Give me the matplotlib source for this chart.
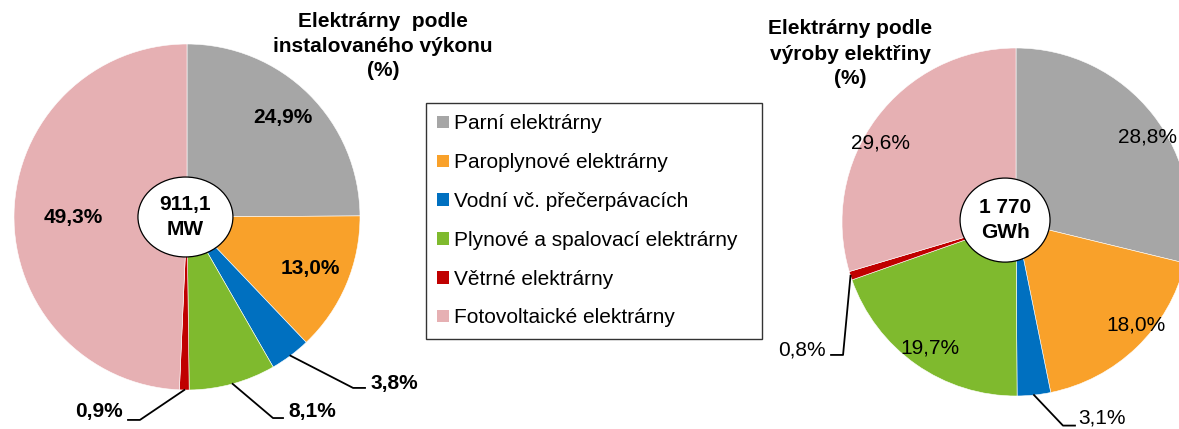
import numpy as np
import matplotlib
matplotlib.use('Agg')
import matplotlib.pyplot as plt
from matplotlib.patches import Ellipse

plt.rcParams['font.family'] = ['Liberation Sans', 'DejaVu Sans']

# data
kategorie = ['Parní elektrárny', 'Paroplynové elektrárny', 'Vodní vč. přečerpávacích',
             'Plynové a spalovací elektrárny', 'Větrné elektrárny', 'Fotovoltaické elektrárny']
barvy = ['#A6A6A6', '#F9A12A', '#0070C0', '#7FBA2E', '#C00000', '#E6B0B3']
vykon = [24.9, 13.0, 3.8, 8.1, 0.9, 49.3]       # instalovaný výkon (%)
vyroba = [28.8, 18.0, 3.1, 19.7, 0.8, 29.6]     # výroba elektřiny (%)

W, H = 1179, 429
fig = plt.figure(figsize=(W / 100, H / 100), dpi=100)


def pie_ax(cx, cy, r):
    # osy v pixelech, stred koláče (cx, cy) od horního levého rohu
    ax = fig.add_axes([(cx - r) / W, (H - cy - r) / H, 2 * r / W, 2 * r / H])
    return ax


def fmt(v):
    return f"{v:.1f}".replace('.', ',') + '%'


def kolac(ax, hodnoty, weight, vnitrni, vnejsi):
    wedges, _ = ax.pie(hodnoty, colors=barvy, startangle=90, counterclock=False, radius=1,
                       wedgeprops=dict(edgecolor='white', linewidth=0.4))
    # pie() nastavuje vlastni meze, proto az po nem
    ax.set_xlim(-1, 1)
    ax.set_ylim(-1, 1)
    ax.set_aspect('equal')
    ax.axis('off')
    for i, w in enumerate(wedges):
        mid = np.deg2rad((w.theta1 + w.theta2) / 2)
        if i in vnitrni:
            d, da = vnitrni[i]
            a = mid + np.deg2rad(da)
            ax.text(d * np.cos(a), d * np.sin(a), fmt(hodnoty[i]), ha='center', va='center',
                    fontsize=15, fontweight=weight)
        else:
            (ex, ey), (hx, hy), (tx, ty), ha = vnejsi[i]
            sx, sy = np.cos(mid), np.sin(mid)
            ax.plot([sx, ex, hx], [sy, ey, hy], color='black', lw=1.3, clip_on=False)
            ax.text(tx, ty, fmt(hodnoty[i]), ha=ha, va='center', fontsize=15,
                    fontweight=weight, clip_on=False)
    return wedges


# levý koláč
ax1 = pie_ax(187, 217, 173)
w1 = kolac(ax1, vykon, 'bold',
           {0: (0.80, 0.7), 1: (0.77, 0.5), 5: (0.66, 1.3)},
           {2: ((0.960, -0.988), (1.029, -0.988), (1.058, -0.962), 'left'),
            3: ((0.497, -1.162), (0.555, -1.162), (0.584, -1.127), 'left'),
            4: ((-0.272, -1.173), (-0.341, -1.173), (-0.370, -1.127), 'right')})
ax1.add_patch(Ellipse((-0.009, 0.0), 0.549, 0.462, facecolor='white', edgecolor='black',
                      lw=0.9, zorder=5))
ax1.text(-0.009, 0.0, '911,1\nMW', ha='center', va='center', fontsize=15,
         fontweight='bold', linespacing=1.4, zorder=6)

# pravý koláč
ax2 = pie_ax(1016, 222, 174)
kolac(ax2, vyroba, 'normal',
      {0: (0.90, -5.4), 1: (0.91, 5.6), 3: (0.88, 0.8), 5: (0.90, 6.5)},
      {2: ((0.270, -1.170), (0.339, -1.170), (0.356, -1.125), 'left'),
       4: ((-0.994, -0.764), (-1.063, -0.764), (-1.095, -0.736), 'right')})
ax2.add_patch(Ellipse((-0.063, 0.011), 0.517, 0.483, facecolor='white', edgecolor='black',
                      lw=0.9, zorder=5))
ax2.text(-0.063, 0.011, '1 770\nGWh', ha='center', va='center', fontsize=15,
         fontweight='bold', linespacing=1.4, zorder=6)

# nadpisy
fig.text(383 / W, 1 - 46 / H, 'Elektrárny  podle\ninstalovaného výkonu\n(%)',
         ha='center', va='center', fontsize=15, fontweight='bold', linespacing=1.35)
fig.text(850 / W, 1 - 54 / H, 'Elektrárny podle\nvýroby elektřiny\n(%)',
         ha='center', va='center', fontsize=15, fontweight='bold', linespacing=1.4)

# legenda
leg = fig.legend(w1, kategorie, loc='upper left',
                 bbox_to_anchor=(426 / W, 92 / H, 336 / W, 234 / H), mode='expand',
                 borderaxespad=0, fontsize=15, frameon=True, fancybox=False,
                 handlelength=0.55, handleheight=0.55, handletextpad=0.25,
                 labelspacing=0.95, borderpad=0.55)
leg.get_frame().set_edgecolor('black')
leg.get_frame().set_linewidth(1.0)
for h in leg.legend_handles:
    h.set_edgecolor('none')

fig.savefig('out.png', dpi=100)
